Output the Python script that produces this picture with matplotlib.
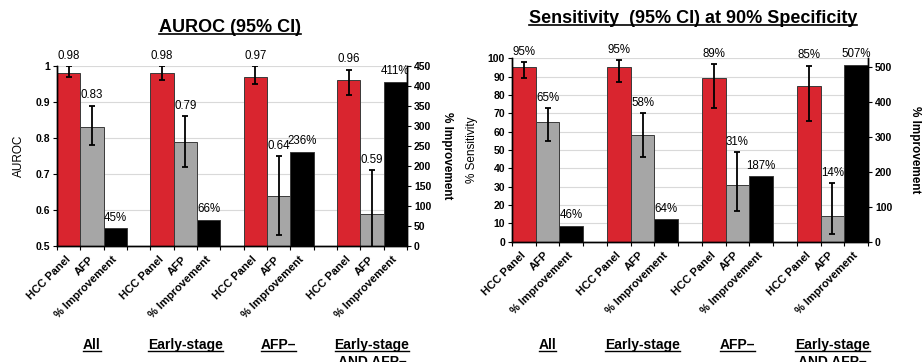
import matplotlib
matplotlib.use('Agg')
import matplotlib.pyplot as plt
from matplotlib.lines import Line2D
from matplotlib.transforms import blended_transform_factory
import numpy as np

plt.rcParams['font.family'] = ['Liberation Sans', 'DejaVu Sans']

# categories
groups = ['All', 'Early-stage', 'AFP\u2013', 'Early-stage\nAND AFP\u2013']
bar_names = ['HCC Panel', 'AFP', '% Improvement']

# AUROC (95% CI)
auroc_panel = [0.98, 0.98, 0.97, 0.96]
auroc_panel_lo = [0.97, 0.96, 0.95, 0.92]
auroc_panel_hi = [1.00, 1.00, 1.00, 0.99]
auroc_afp = [0.83, 0.79, 0.64, 0.59]
auroc_afp_lo = [0.78, 0.72, 0.53, 0.46]
auroc_afp_hi = [0.89, 0.86, 0.75, 0.71]
auroc_improv = [45, 66, 236, 411]

# sensitivity at 90% specificity
sens_panel = [95, 95, 89, 85]
sens_panel_lo = [89, 87, 73, 66]
sens_panel_hi = [98, 99, 97, 96]
sens_afp = [65, 58, 31, 14]
sens_afp_lo = [55, 46, 17, 4]
sens_afp_hi = [73, 70, 49, 32]
sens_improv = [46, 64, 187, 507]

RED = '#D9252F'
GREY = '#A6A6A6'
EDGE = '#3a3a3a'

W, H = 922, 362
fig = plt.figure(figsize=(W / 100, H / 100), dpi=100)


def draw_chart(rect, panel, plo, phi, afp, alo, ahi, improv, fmt,
               ylim, yticks, ytickfmt, ylim2, yticks2, ylabel, ylabel_x, ylabel2_x):
    ax = fig.add_axes(rect)
    x = np.arange(len(groups)) * 4

    ax.bar(x, panel, width=1, color=RED, edgecolor=EDGE, linewidth=0.7, zorder=2)
    ax.bar(x + 1, afp, width=1, color=GREY, edgecolor=EDGE, linewidth=0.7, zorder=2)
    ax.errorbar(x, panel, yerr=[np.subtract(panel, plo), np.subtract(phi, panel)],
                fmt='none', ecolor='black', elinewidth=1.3, capsize=2, capthick=1.3, zorder=3)
    ax.errorbar(x + 1, afp, yerr=[np.subtract(afp, alo), np.subtract(ahi, afp)],
                fmt='none', ecolor='black', elinewidth=1.3, capsize=2, capthick=1.3, zorder=3)

    for xi, v, top in zip(x, panel, phi):
        ax.annotate(fmt(v), (xi, min(top, ylim[1])), xytext=(0, 3), textcoords='offset points',
                    ha='center', va='bottom', fontsize=8.3, annotation_clip=False)
    for xi, v, top in zip(x + 1, afp, ahi):
        ax.annotate(fmt(v), (xi, top), xytext=(0, 3), textcoords='offset points',
                    ha='center', va='bottom', fontsize=8.3, annotation_clip=False)

    ax.set_xlim(-0.5, 14.5)
    ax.set_ylim(*ylim)
    ax.set_yticks(yticks, [ytickfmt(t) for t in yticks], fontweight='bold', fontsize=7.5)
    ax.yaxis.grid(True, color='#D9D9D9', linewidth=0.8)
    ax.set_axisbelow(True)

    pos = np.concatenate([x, x + 1, x + 2])
    labs = [bar_names[0]] * 4 + [bar_names[1]] * 4 + [bar_names[2]] * 4
    ax.set_xticks(pos, labs, rotation=45, ha='right', va='center', rotation_mode='anchor',
                  fontsize=8, fontweight='bold')
    ax.set_xticks(np.arange(-0.5, 15, 1), minor=True)
    ax.tick_params(axis='x', which='major', length=0, pad=8.5)
    ax.tick_params(axis='x', which='minor', length=3, width=0.8, direction='out')
    ax.tick_params(axis='y', length=3, width=0.8, direction='out', pad=2)

    ax.set_ylabel(ylabel, fontsize=8.5)
    ax.yaxis.set_label_coords(ylabel_x, 0.5)

    ax2 = ax.twinx()
    ax2.bar(x + 2, improv, width=1, color='black', edgecolor=EDGE, linewidth=0.7, zorder=2)
    for xi, v in zip(x + 2, improv):
        ax2.annotate(f'{v}%', (xi, v), xytext=(0, 3), textcoords='offset points',
                     ha='center', va='bottom', fontsize=8.3, annotation_clip=False)
    ax2.set_ylim(*ylim2)
    ax2.set_yticks(yticks2, [str(t) for t in yticks2], fontweight='bold', fontsize=7.5)
    ax2.tick_params(axis='y', length=3, width=0.8, direction='out', pad=2)
    ax2.set_ylabel('% Improvement', fontsize=8.5, fontweight='bold', rotation=-90, va='center')
    ax2.yaxis.set_label_coords(ylabel2_x, 0.5)

    for a in (ax, ax2):
        a.spines['top'].set_visible(False)
        for s in ('left', 'right', 'bottom'):
            a.spines[s].set_color('black')
            a.spines[s].set_linewidth(1.0)

    # group labels under the tick labels
    tr = blended_transform_factory(ax.transData, fig.transFigure)
    texts = []
    for xi, g in zip(x + 1, groups):
        for k, line in enumerate(g.split('\n')):
            t = ax.text(xi, 1 - (349 + 17 * k) / H, line, transform=tr, ha='center',
                        va='baseline', fontsize=10, fontweight='bold')
            texts.append(t)
    return ax, texts


ax1, under1 = draw_chart([57 / W, 1 - 246 / H, 350 / W, 180 / H],
                         auroc_panel, auroc_panel_lo, auroc_panel_hi,
                         auroc_afp, auroc_afp_lo, auroc_afp_hi, auroc_improv,
                         lambda v: f'{v:.2f}', (0.5, 1.0), [0.5, 0.6, 0.7, 0.8, 0.9, 1.0],
                         lambda t: '1' if t == 1.0 else f'{t:.1f}',
                         (0, 450), list(range(0, 451, 50)), 'AUROC', -0.091, 1.114)

ax3, under2 = draw_chart([512 / W, 1 - 241.7 / H, 356 / W, 183.4 / H],
                         sens_panel, sens_panel_lo, sens_panel_hi,
                         sens_afp, sens_afp_lo, sens_afp_hi, sens_improv,
                         lambda v: f'{v}%', (0, 100), list(range(0, 101, 10)),
                         lambda t: str(t),
                         (0, 525), list(range(0, 501, 100)), '% Sensitivity', -0.095, 1.132)

t1 = fig.text(230 / W, 1 - 31.5 / H, 'AUROC (95% CI)', ha='center', va='baseline',
              fontsize=13, fontweight='bold')
t2 = fig.text(693 / W, 1 - 22.7 / H, 'Sensitivity  (95% CI) at 90% Specificity', ha='center',
              va='baseline', fontsize=13, fontweight='bold')


def underline(txt, gap=2.0, lw=1.0):
    bb = txt.get_window_extent()
    base = txt.get_transform().transform(txt.get_position())[1]
    y = (base - gap) / fig.bbox.height
    fig.add_artist(Line2D([bb.x0 / fig.bbox.width, bb.x1 / fig.bbox.width], [y, y],
                          transform=fig.transFigure, color='black', linewidth=lw))


fig.canvas.draw()
underline(t1, 2.0, 1.2)
underline(t2, 2.0, 1.2)
for t in under1 + under2:
    underline(t, 2.0, 1.0)

fig.savefig('out.png', dpi=100)
